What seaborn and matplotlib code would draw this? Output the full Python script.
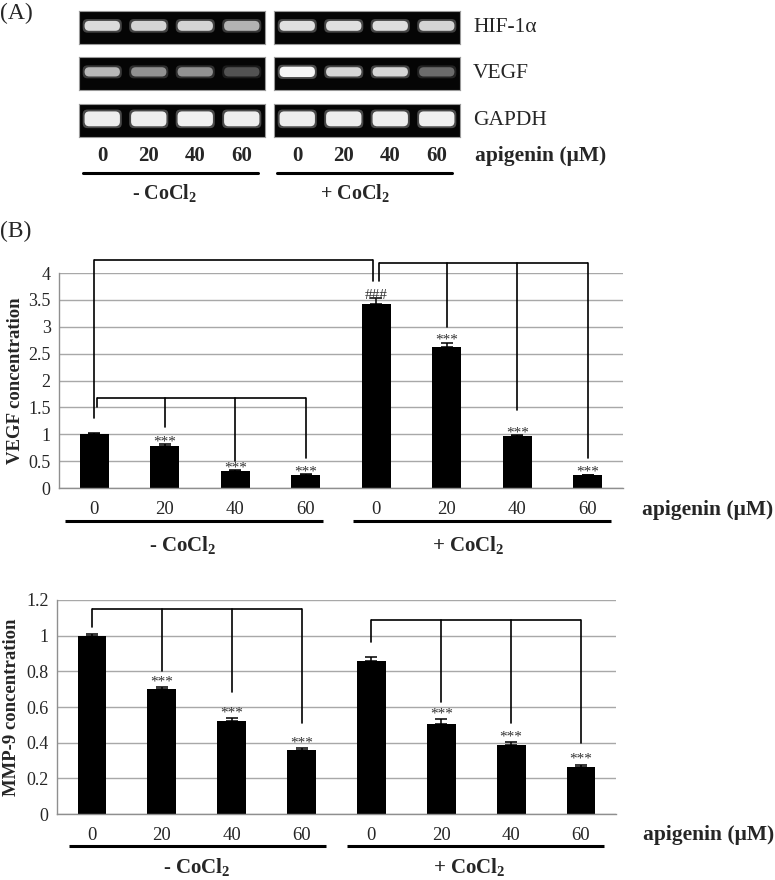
import numpy as np
import pandas as pd
import matplotlib
matplotlib.use("Agg")
import matplotlib.pyplot as plt
import matplotlib.transforms as mtrans
from matplotlib.patches import FancyBboxPatch
from matplotlib.ticker import FuncFormatter
import seaborn as sns

# ---------------- data ----------------
doses = ["0", "20", "40", "60"]
group_labels = [r"- CoCl$_\mathbf{2}$", r"+ CoCl$_\mathbf{2}$"]
dose_axis_label = "apigenin (\u03bcM)"

# Panel A: relative band brightness (0 = black, 1 = white)
gel_rows = ["HIF-1\u03b1", "VEGF", "GAPDH"]
hif_minus = [0.86, 0.83, 0.83, 0.70]
hif_plus = [0.88, 0.88, 0.87, 0.83]
vegfband_minus = [0.72, 0.57, 0.57, 0.32]
vegfband_plus = [0.96, 0.84, 0.84, 0.42]
gapdh_minus = [0.93, 0.93, 0.94, 0.93]
gapdh_plus = [0.93, 0.93, 0.93, 0.94]

# Panel B: VEGF
vegf_minus = [1.00, 0.79, 0.32, 0.25]
vegf_plus = [3.42, 2.63, 0.97, 0.24]
vegf_err_minus = [0.03, 0.025, 0.01, 0.01]
vegf_err_plus = [0.12, 0.07, 0.015, 0.01]
vegf_marks = ["", "***", "***", "***", "###", "***", "***", "***"]

# Panel B: MMP-9
mmp_minus = [1.00, 0.70, 0.52, 0.36]
mmp_plus = [0.86, 0.505, 0.385, 0.265]
mmp_err_minus = [0.01, 0.01, 0.02, 0.01]
mmp_err_plus = [0.02, 0.025, 0.02, 0.012]
mmp_marks = ["", "***", "***", "***", "", "***", "***", "***"]

# ---------------- style ----------------
sns.set_theme(style="white")
plt.rcParams["font.family"] = ["Liberation Serif", "DejaVu Serif"]
plt.rcParams["mathtext.fontset"] = "custom"
plt.rcParams["mathtext.rm"] = "Liberation Serif"
plt.rcParams["mathtext.bf"] = "Liberation Serif:bold"
plt.rcParams["mathtext.it"] = "Liberation Serif:italic"

W, H = 775, 880
fig = plt.figure(figsize=(W / 100, H / 100), dpi=100)
fig.patch.set_facecolor("white")


def fx(px):
    return px / W


def fy(py):
    return 1 - py / H


# ---------------- Panel A ----------------
fig.text(fx(0), fy(13), "(A)", fontsize=17, va="center", ha="left")

row_specs = [
    (11, 44, hif_minus, hif_plus, 0.30),
    (57, 90, vegfband_minus, vegfband_plus, 0.28),
    (104, 137, gapdh_minus, gapdh_plus, 0.45),
]
gel_x = [(79, 265), (274, 460)]
for r, (y0, y1, vm, vp, bh) in enumerate(row_specs):
    for g, ((x0, x1), vals) in enumerate(zip(gel_x, [vm, vp])):
        ax = fig.add_axes([fx(x0), fy(y1), fx(x1) - fx(x0), fy(y0) - fy(y1)])
        ax.set_facecolor("#050505")
        ax.set_xlim(0, 4)
        ax.set_ylim(0, 1)
        ax.set_xticks([])
        ax.set_yticks([])
        for s in ax.spines.values():
            s.set_color("#9a9a9a")
            s.set_linewidth(0.8)
        asp = ((x1 - x0) / 4) / (y1 - y0)
        for i, v in enumerate(vals):
            h = bh * (1.12 if (g == 1 and r == 1 and i == 0) else 1.0)
            for grow, alpha in [(0.08, 0.3), (0.0, 1.0)]:
                w = 0.76 + grow
                hh = h + grow * asp
                p = FancyBboxPatch((i + 0.5 - w / 2, 0.55 - hh / 2), w, hh,
                                   boxstyle="round,pad=0,rounding_size=0.1",
                                   mutation_aspect=asp,
                                   facecolor=(v, v, v), edgecolor="none",
                                   alpha=alpha)
                ax.add_patch(p)
        if r == 2:
            trans = mtrans.blended_transform_factory(ax.transData, fig.transFigure)
            for i, d in enumerate(doses):
                ax.text(i + 0.5, fy(156), d, transform=trans, ha="center",
                        va="center", fontsize=15, fontweight="bold")
    fig.text(fx(473), fy((y0 + y1) / 2), gel_rows[r], fontsize=15.5,
             ha="left", va="center")

fig.text(fx(475), fy(156), dose_axis_label, fontsize=15.5, fontweight="bold",
         ha="left", va="center")
for (lx0, lx1), lab, cx in zip([(83, 258), (277, 452)], group_labels, [165, 355]):
    fig.add_artist(plt.Line2D([fx(lx0), fx(lx1)], [fy(173), fy(173)],
                              transform=fig.transFigure, color="black", lw=2.2))
    fig.text(fx(cx), fy(193), lab, fontsize=14.5, fontweight="bold",
             ha="center", va="center")

fig.text(fx(0), fy(231), "(B)", fontsize=17, va="center", ha="left")


# ---------------- Panel B bar charts ----------------
def bar_panel(ax, minus, plus, err_m, err_p, marks, ymax, ystep, ylabel,
              ylabel_x, brackets, line_y, text_y, group_spans, group_cx,
              dose_label_x, dose_label_y, mark_off):
    cond = [f"{s}{d}" for s in ["-", "+"] for d in doses]
    values = list(minus) + list(plus)
    errs = list(err_m) + list(err_p)
    df = pd.DataFrame({"cond": cond, "value": values})
    sns.barplot(data=df, x="cond", y="value", order=cond, color="black",
                saturation=1, width=0.41, errorbar=None, ax=ax,
                edgecolor="black", linewidth=0)
    xs = np.arange(len(cond))
    ax.errorbar(xs, values, yerr=[np.zeros(len(xs)), errs], fmt="none",
                ecolor="black", elinewidth=1.1, capsize=4, capthick=1.1)
    ax.set_xlim(-0.5, 7.5)
    ax.set_ylim(0, ymax)
    ticks = np.arange(0, ymax + 1e-9, ystep)
    ax.set_yticks(ticks)
    ax.yaxis.set_major_formatter(FuncFormatter(lambda v, p: f"{v:g}"))
    ax.yaxis.grid(True, color="#a8a8a8", lw=1.0)
    ax.set_axisbelow(True)
    for side in ["top", "right"]:
        ax.spines[side].set_visible(False)
    for side in ["left", "bottom"]:
        ax.spines[side].set_color("#8f8f8f")
        ax.spines[side].set_linewidth(1.0)
    ax.set_xticks(xs)
    ax.set_xticklabels(doses * 2)
    ax.set_xticks(np.arange(-0.5, 8, 1), minor=True)
    ax.tick_params(axis="x", which="major", length=0, pad=9, labelsize=13.5)
    ax.tick_params(axis="x", which="minor", length=5, width=1.0,
                   color="#8f8f8f", direction="out")
    ax.tick_params(axis="y", length=4, width=1.0, color="#8f8f8f",
                   labelsize=13, pad=2)
    ax.set_xlabel("")
    ax.set_ylabel(ylabel, fontsize=13.5, fontweight="bold")
    ax.yaxis.set_label_coords(ylabel_x, 0.5)

    # significance marks
    for x, v, e, m in zip(xs, values, errs, marks):
        if m:
            ax.annotate(m, (x, v + e), xytext=(0, mark_off),
                        textcoords="offset points", ha="center", va="bottom",
                        fontsize=11, color="#333333")

    # brackets
    for top, drops in brackets:
        bx = [d[0] for d in drops]
        ax.plot([min(bx), max(bx)], [top, top], color="black", lw=1.2,
                clip_on=False, solid_capstyle="butt")
        for x, ylow in drops:
            ax.plot([x, x], [top, ylow], color="black", lw=1.2, clip_on=False)

    # group underlines and labels
    trans = mtrans.blended_transform_factory(ax.transData, ax.transAxes)
    for (gx0, gx1), lab, cx in zip(group_spans, group_labels, group_cx):
        ax.plot([gx0, gx1], [line_y, line_y], transform=trans, color="black",
                lw=2.2, clip_on=False, solid_capstyle="butt")
        ax.text(cx, text_y, lab, transform=trans, ha="center", va="center",
                fontsize=15, fontweight="bold")
    ax.text(dose_label_x, dose_label_y, dose_axis_label, transform=ax.transAxes,
            ha="left", va="center", fontsize=15.5, fontweight="bold")


ax1 = fig.add_axes([fx(59), fy(488), fx(623) - fx(59), fy(273) - fy(488)])
bar_panel(
    ax1, vegf_minus, vegf_plus, vegf_err_minus, vegf_err_plus, vegf_marks,
    4, 0.5, "VEGF concentration", -0.062,
    brackets=[
        (4.25, [(0.0, 1.3), (3.95, 3.85)]),
        (1.68, [(0.04, 1.5), (1.0, 1.13), (2.0, 0.5), (3.0, 0.55)]),
        (4.18, [(4.04, 3.85), (5.0, 3.0), (6.0, 1.45), (7.0, 0.55)]),
    ],
    line_y=-0.153, text_y=-0.265,
    group_spans=[(-0.41, 3.24), (3.67, 7.33)], group_cx=[1.25, 5.3],
    dose_label_x=1.034, dose_label_y=-0.102, mark_off=-3,
)

ax2 = fig.add_axes([fx(57), fy(814), fx(616) - fx(57), fy(600) - fy(814)])
bar_panel(
    ax2, mmp_minus, mmp_plus, mmp_err_minus, mmp_err_plus, mmp_marks,
    1.2, 0.2, "MMP-9 concentration", -0.066,
    brackets=[
        (1.15, [(0.0, 1.05), (1.0, 0.8), (2.0, 0.685), (3.0, 0.51)]),
        (1.09, [(4.0, 0.965), (5.0, 0.63), (6.0, 0.51), (7.0, 0.4)]),
    ],
    line_y=-0.15, text_y=-0.248,
    group_spans=[(-0.33, 3.35), (3.65, 7.33)], group_cx=[1.5, 5.4],
    dose_label_x=1.048, dose_label_y=-0.098, mark_off=-1,
)

fig.savefig("out.png", dpi=100, facecolor="white")
